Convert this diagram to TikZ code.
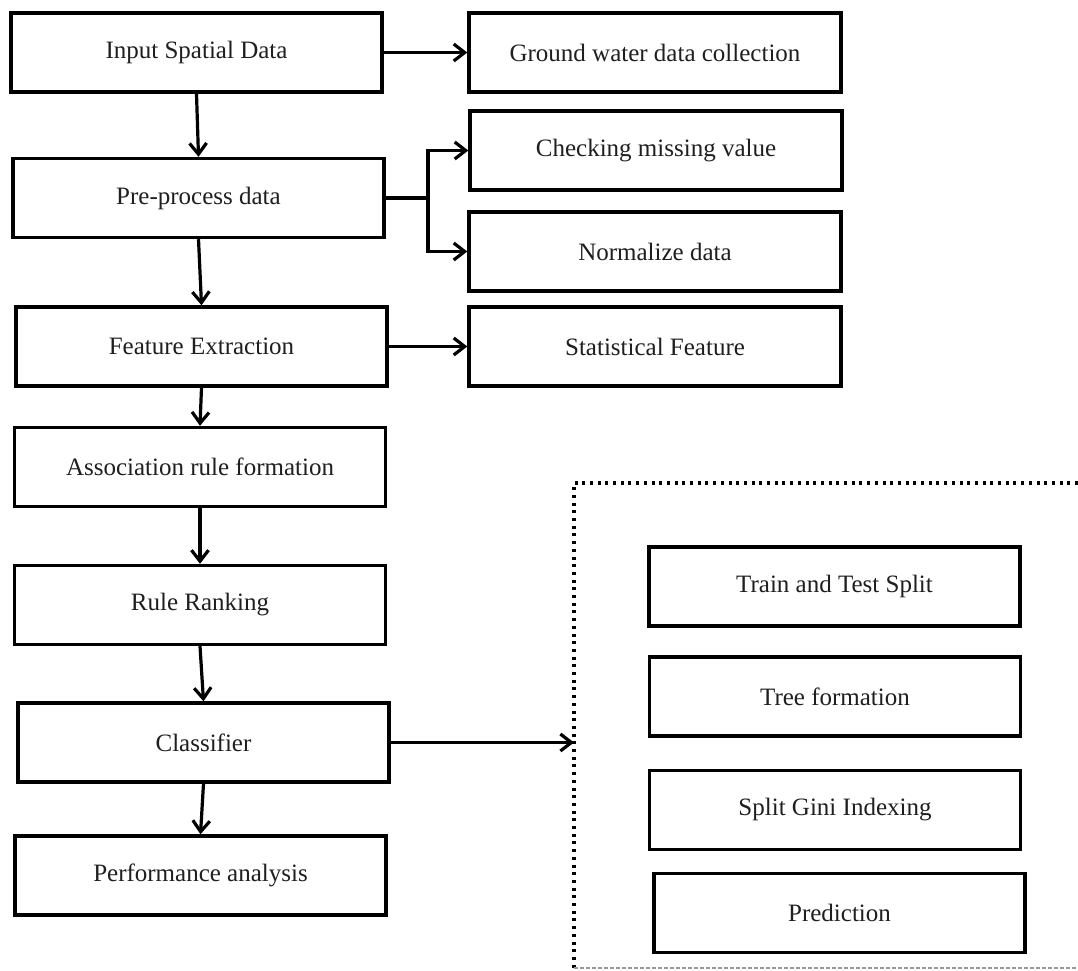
\documentclass[tikz,border=0pt]{standalone}
\usepackage{fontspec}
\setmainfont{Liberation Serif}
\usetikzlibrary{arrows.meta}
\begin{document}
\begin{tikzpicture}[x=1pt,y=-1pt,
  box/.style={draw=black, line width=3.4pt, rectangle, inner sep=0pt,
    minimum height=79pt, font=\fontsize{25}{29}\selectfont, text=black!88},
  lbox/.style={box, minimum width=371pt},
  rbox/.style={box, minimum width=372pt},
  conn/.style={draw=black, line width=3.2pt,
    -{Straight Barb[length=11pt,width=17pt,line width=3.2pt]}},
  plain/.style={draw=black, line width=3.2pt},
  dotline/.style={draw=black, line width=3.2pt, dash pattern=on 3pt off 4.7pt},
  grayline/.style={draw=black!40, line width=1.2pt, dash pattern=on 4pt off 2pt}]
\useasboundingbox (0,0) rectangle (1078,970);
\fill[white] (0,0) rectangle (1078,970);

% left column
\node[lbox] (inp) at (196.5,52.5) {Input Spatial Data};
\node[lbox] (pre) at (198.5,198) {Pre-process data};
\node[lbox] (fe)  at (201.5,346.5) {Feature Extraction};
\node[lbox] (ar)  at (200,467) {Association rule formation};
\node[lbox] (rr)  at (200,605) {Rule Ranking};
\node[lbox] (cl)  at (203.5,742.5) {Classifier};
\node[lbox] (pa)  at (200.5,875.5) {Performance analysis};

% right column
\node[rbox] (gw)  at (655,52.5) {Ground water data collection};
\node[rbox] (chk) at (656,150.5) {Checking missing value};
\node[rbox] (nrm) at (655,251.5) {Normalize data};
\node[rbox] (sf)  at (655,346.5) {Statistical Feature};

% dotted group
\node[lbox] (tt) at (834.5,586.5) {Train and Test Split};
\node[lbox] (tf) at (835,696.5) {Tree formation};
\node[lbox] (sg) at (835,810) {Split Gini Indexing};
\node[lbox] (pr) at (839.5,913) {Prediction};

\coordinate (gtl) at (574,483);
\coordinate (gtr) at (1078,483);
\coordinate (gbl) at (574,968);
\coordinate (gbr) at (1078,968);
\draw[dotline] (gtr) -- (gtl) -- (gbl);
\draw[grayline] (gbl) -- (gbr);
\coordinate (gin) at (574,742.5);

% connectors
\draw[conn] (inp.south) -- (pre.north);
\draw[conn] (inp.east) -- (gw.west);
\coordinate (br) at (428,198);
\draw[plain] (pre.east) -- (br);
\draw[conn] (br) |- (chk.west);
\draw[conn] (br) |- (nrm.west);
\draw[conn] (pre.south) -- (fe.north);
\draw[conn] (fe.east) -- (sf.west);
\draw[conn] (fe.south) -- (ar.north);
\draw[conn] (ar.south) -- (rr.north);
\draw[conn] (rr.south) -- (cl.north);
\draw[conn] (cl.south) -- (pa.north);
\draw[conn] (cl.east) -- (gin);
\end{tikzpicture}
\end{document}
